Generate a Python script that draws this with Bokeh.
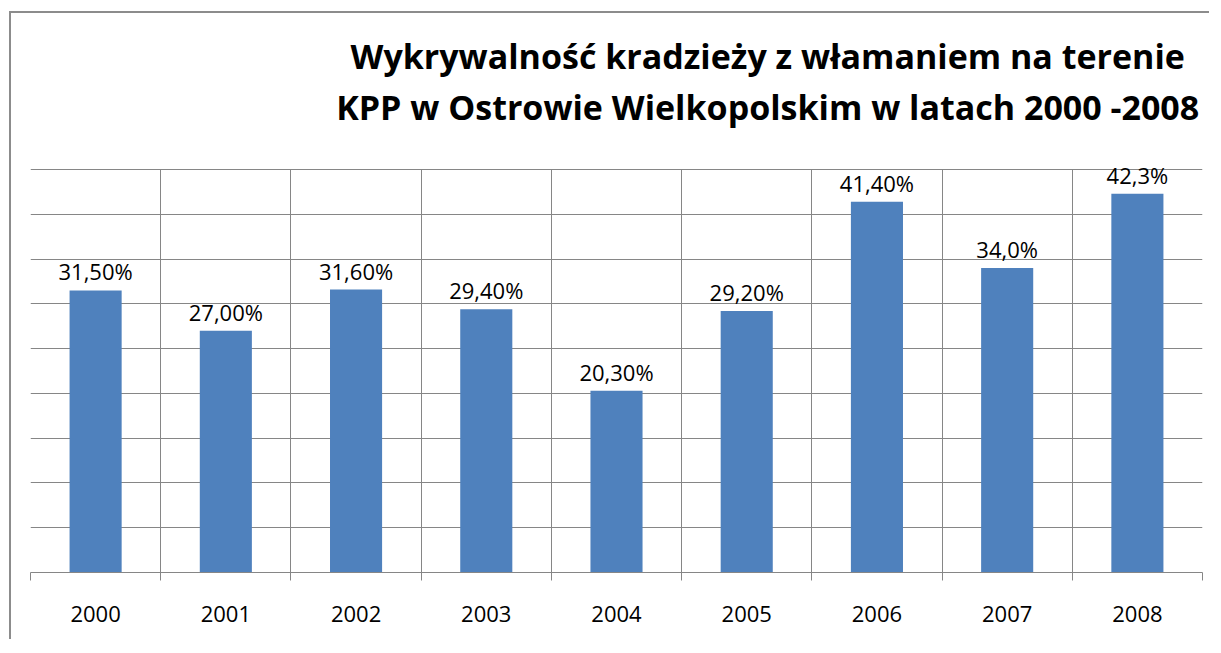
from bokeh.plotting import figure
from bokeh.models import ColumnDataSource, FixedTicker, Label
from bokeh.core.properties import value
from bokeh.embed import file_html
from bokeh.resources import INLINE

# ---- data ----
years = ["2000", "2001", "2002", "2003", "2004", "2005", "2006", "2007", "2008"]
rates = [31.5, 27.0, 31.6, 29.4, 20.3, 29.2, 41.4, 34.0, 42.3]
rate_labels = ["31,50%", "27,00%", "31,60%", "29,40%", "20,30%", "29,20%", "41,40%", "34,0%", "42,3%"]
title_lines = ["Wykrywalność kradzieży z włamaniem na terenie",
               "KPP w Ostrowie Wielkopolskim w latach 2000 -2008"]
y_max = 45
y_step = 5

GRID = "#868686"
BAR = "#4F81BD"
FONT = "Open Sans"

# layout (pixels)
W, H = 1200, 628
PLOT_H = 403           # height of the gridded area (0 .. y_max)
BOTTOM = 69
px_per_unit = PLOT_H / y_max
y_top = (H - BOTTOM) / px_per_unit   # frame reaches the top of the canvas, title sits inside it

n = len(years)
xs = [i + 0.5 for i in range(n)]
src = ColumnDataSource(dict(x=xs, top=rates, label=rate_labels))

p = figure(width=W, height=H, x_range=(0, n), y_range=(0, y_top),
           output_backend="svg", toolbar_location=None, y_axis_location=None,
           min_border_left=19, min_border_right=9, min_border_top=0, min_border_bottom=BOTTOM)
p.styles = {"border-left": "2px solid #8c8c8c", "border-top": "2px solid #8c8c8c",
            "margin-left": "9px", "margin-top": "11px"}
p.background_fill_color = "white"
p.border_fill_color = "white"
p.outline_line_color = None

p.xgrid.ticker = FixedTicker(ticks=list(range(n + 1)))
p.xgrid.grid_line_color = GRID
p.xgrid[0].cross_bounds = (0, y_max)
p.ygrid.ticker = FixedTicker(ticks=list(range(0, y_max + 1, y_step)))
p.ygrid.grid_line_color = GRID

ax = p.xaxis[0]
ax.ticker = FixedTicker(ticks=xs, minor_ticks=list(range(n + 1)))
ax.major_label_overrides = {x: y for x, y in zip(xs, years)}
ax.major_tick_line_color = None
ax.major_tick_in = 0
ax.major_tick_out = 8
ax.minor_tick_line_color = GRID
ax.minor_tick_in = 0
ax.minor_tick_out = 8
ax.axis_line_color = GRID
ax.major_label_text_font = FONT
ax.major_label_text_font_size = "22px"
ax.major_label_text_color = "black"
ax.major_label_standoff = 25

p.vbar(x="x", top="top", bottom=0, width=0.4, source=src,
       fill_color=BAR, line_color=None)
p.text(x="x", y="top", text="label", source=src,
       text_font=value(FONT), text_font_size="22px", text_color="black",
       text_align="center", text_baseline="alphabetic", y_offset=-19)

# title: two centred lines above the gridded area
title_cx = n * 0.629
title_baselines_px = [517, 466]   # pixels above the x axis
for line, b in zip(title_lines, title_baselines_px):
    p.add_layout(Label(x=title_cx, y=b / px_per_unit, text=line, text_font=FONT,
                       text_font_size="34px", text_font_style="bold",
                       text_color="black", text_align="center",
                       text_baseline="alphabetic"))

open("out.html", "w").write(file_html(p, INLINE))
